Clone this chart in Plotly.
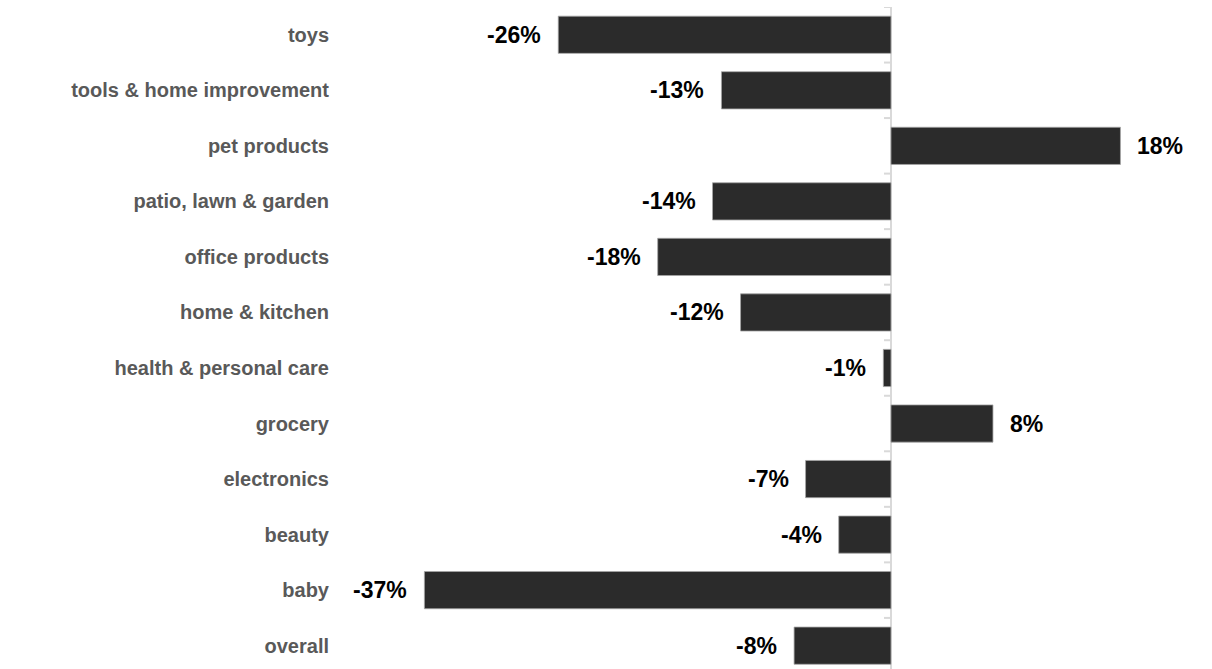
import plotly.graph_objects as go

categories = ["overall", "baby", "beauty", "electronics", "grocery",
              "health & personal care", "home & kitchen", "office products",
              "patio, lawn & garden", "pet products", "tools & home improvement", "toys"]
values = [-0.076, -0.366, -0.041, -0.067, 0.080, -0.006, -0.118, -0.183,
          -0.140, 0.180, -0.133, -0.261]

BAR_COLOR = "#2b2b2b"
FONT = "Liberation Sans, Arial, sans-serif"

fig = go.Figure()
fig.add_trace(go.Bar(
    x=values, y=categories, orientation="h",
    marker=dict(color=BAR_COLOR, line=dict(color="#a6a6a6", width=0.8)),
    hoverinfo="skip",
))

annotations = []
for c, v in zip(categories, values):
    annotations.append(dict(
        x=v, y=c, xref="x", yref="y",
        text=f"<b>{round(v*100):d}%</b>",
        showarrow=False,
        xanchor="right" if v < 0 else "left",
        xshift=-15 if v < 0 else 15,
        font=dict(family=FONT, size=23, color="#000000"),
    ))

shapes = []
for i in range(len(categories) + 1):
    b = i - 0.5
    shapes.append(dict(type="line", xref="x", yref="y",
                       x0=-0.0055, x1=0, y0=b, y1=b,
                       line=dict(color="#d9d9d9", width=2), layer="below"))

fig.update_layout(
    width=1212, height=669,
    margin=dict(l=340, r=12, t=7, b=0),
    paper_bgcolor="white", plot_bgcolor="white",
    bargap=0.33,
    showlegend=False,
    annotations=annotations,
    shapes=shapes,
    xaxis=dict(range=[-0.4322, 0.2424], showgrid=False, showticklabels=False,
               ticks="", zeroline=True, zerolinecolor="#d9d9d9", zerolinewidth=2,
               showline=False),
    yaxis=dict(range=[-0.42, 11.5], showgrid=False, ticks="", showline=False,
               zeroline=False, ticklabelstandoff=10,
               tickfont=dict(family=FONT, size=20, color="#595959"),
               tickvals=categories,
               ticktext=[f"<b>{c}</b>" for c in categories]),
)

fig.write_html("out.html")
